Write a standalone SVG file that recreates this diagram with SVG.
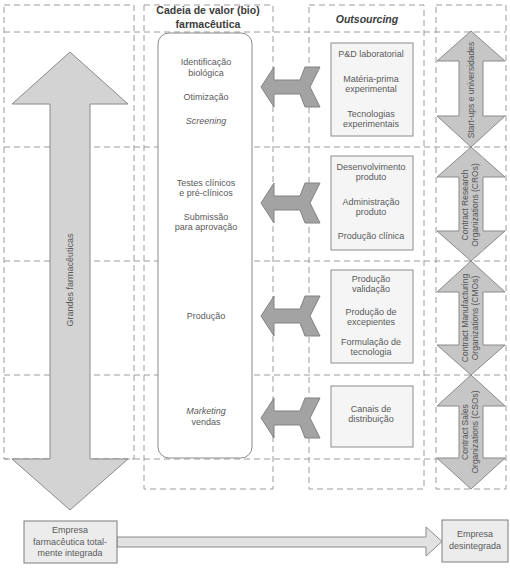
<svg xmlns="http://www.w3.org/2000/svg" xmlns:xlink="http://www.w3.org/1999/xlink" width="510" height="573" viewBox="0 0 510 573">
<style>
.dash{fill:none;stroke:#9c9c9c;stroke-width:1;stroke-dasharray:6 4}
.t{font-family:"Liberation Sans",Arial,sans-serif;font-size:9px;fill:#5a5a5a;text-anchor:middle}
.i{font-style:italic}
.h{font-family:"Liberation Sans",Arial,sans-serif;font-size:10.5px;font-weight:bold;fill:#3c3c3c;text-anchor:middle}
.r{font-family:"Liberation Sans",Arial,sans-serif;font-size:8.5px;fill:#555;text-anchor:middle}
.big{fill:#d3d3d3;stroke:#8a8a8a;stroke-width:1}
.harrow{fill:#a3a3a3;stroke:#828282;stroke-width:1}
.varrow{fill:#c6c6c6;stroke:#8a8a8a;stroke-width:1}
.obox{fill:#f5f5f5;stroke:#8c8c8c;stroke-width:1}
.bbox{fill:#ececec;stroke:#7c7c7c;stroke-width:1}
</style>
<defs>
<path id="ha" d="M0,0 L13,-20 L13,-7 L39,-7 L44,-20 L59,-20 L49,0 L59,20 L44,20 L39,7 L13,7 L13,20 Z"/>
</defs>
<rect width="510" height="573" fill="#fff"/>

<g id="grid">
<rect class="dash" x="4" y="5" width="130" height="454"/>
<rect class="dash" x="144" y="5" width="129" height="484"/>
<rect class="dash" x="309" y="5" width="115" height="484"/>
<rect class="dash" x="436" y="5" width="70" height="484"/>
<line class="dash" x1="4" y1="32" x2="506" y2="32"/>
<line class="dash" x1="4" y1="147" x2="506" y2="147"/>
<line class="dash" x1="4" y1="261" x2="506" y2="261"/>
<line class="dash" x1="4" y1="375" x2="506" y2="375"/>
<line class="dash" x1="4" y1="459" x2="506" y2="459"/>
</g>

<g id="headers">
<text class="h" x="208" y="14">Cadeia de valor (bio)</text>
<text class="h" x="208" y="28">farmacêutica</text>
<text class="h i" x="367" y="23">Outsourcing</text>
</g>

<g id="grandes">
<path class="big" d="M70,52 L128,104 L90,104 L90,459 L128,459 L70,510 L12,459 L50,459 L50,104 L12,104 Z"/>
<text class="t" transform="translate(73,280) rotate(-90)" x="0" y="0">Grandes farmacêuticas</text>
</g>

<g id="cadeia">
<rect x="158" y="33" width="94" height="425" rx="11" fill="#fff" stroke="#8a8a8a" stroke-width="1"/>
<text class="t" x="206" y="65">Identificação</text>
<text class="t" x="206" y="75.5">biológica</text>
<text class="t" x="206" y="100">Otimização</text>
<text class="t i" x="206" y="124">Screening</text>
<text class="t" x="206" y="185.5">Testes clínicos</text>
<text class="t" x="206" y="196">e pré-clínicos</text>
<text class="t" x="206" y="219.5">Submissão</text>
<text class="t" x="206" y="230">para aprovação</text>
<text class="t" x="206" y="319">Produção</text>
<text class="t i" x="206" y="414">Marketing</text>
<text class="t" x="206" y="425">vendas</text>
</g>

<g id="connectors">
<use href="#ha" xlink:href="#ha" class="harrow" transform="translate(261,87)"/>
<use href="#ha" xlink:href="#ha" class="harrow" transform="translate(261,203)"/>
<use href="#ha" xlink:href="#ha" class="harrow" transform="translate(261,316)"/>
<use href="#ha" xlink:href="#ha" class="harrow" transform="translate(261,418)"/>
<path d="M117,537 L426,537 L426,527 L442,541.5 L426,556 L426,547 L117,547 Z" fill="#e2e2e2" stroke="#8a8a8a" stroke-width="1"/>
</g>

<g id="out1">
<rect class="obox" x="331" y="43" width="82" height="93"/>
<text class="t" x="371" y="57">P&amp;D laboratorial</text>
<text class="t" x="371" y="81.5">Matéria-prima</text>
<text class="t" x="371" y="92">experimental</text>
<text class="t" x="371" y="116.5">Tecnologias</text>
<text class="t" x="371" y="127">experimentais</text>
</g>
<g id="out2">
<rect class="obox" x="331" y="156" width="82" height="94"/>
<text class="t" x="371" y="169.5">Desenvolvimento</text>
<text class="t" x="371" y="180">produto</text>
<text class="t" x="371" y="204.5">Administração</text>
<text class="t" x="371" y="215">produto</text>
<text class="t" x="371" y="239">Produção clínica</text>
</g>
<g id="out3">
<rect class="obox" x="331" y="270" width="82" height="93"/>
<text class="t" x="371" y="281.5">Produção</text>
<text class="t" x="371" y="292">validação</text>
<text class="t" x="371" y="314.5">Produção de</text>
<text class="t" x="371" y="325">excepientes</text>
<text class="t" x="371" y="344.5">Formulação de</text>
<text class="t" x="371" y="355">tecnologia</text>
</g>
<g id="out4">
<rect class="obox" x="331" y="386" width="82" height="61"/>
<text class="t" x="371" y="411.5">Canais de</text>
<text class="t" x="371" y="422">distribuição</text>
</g>

<g id="startups">
<path class="varrow" d="M471,31 L505,61 L483,61 L483,116 L505,116 L471,147 L437,116 L459,116 L459,61 L437,61 Z"/>
<text class="r" transform="translate(474,90) rotate(-90)">Start-ups e universidades</text>
</g>
<g id="cros">
<path class="varrow" d="M471,147 L505,177 L483,177 L483,231 L505,231 L471,261 L437,231 L459,231 L459,177 L437,177 Z"/>
<text class="r" transform="translate(468,205) rotate(-90)">Contract Research</text>
<text class="r" transform="translate(478,205) rotate(-90)">Organizations (CROs)</text>
</g>
<g id="cmos">
<path class="varrow" d="M471,261 L505,292 L483,292 L483,345 L505,345 L471,375 L437,345 L459,345 L459,292 L437,292 Z"/>
<text class="r" transform="translate(468,318) rotate(-90)">Contract Manufacturing</text>
<text class="r" transform="translate(478,318) rotate(-90)">Organizations (CMOs)</text>
</g>
<g id="csos">
<path class="varrow" d="M471,375 L505,406 L483,406 L483,458 L505,458 L471,489 L437,458 L459,458 L459,406 L437,406 Z"/>
<text class="r" transform="translate(468,432) rotate(-90)">Contract Sales</text>
<text class="r" transform="translate(478,432) rotate(-90)">Organizations (CSOs)</text>
</g>

<g id="integrada">
<rect class="bbox" x="24" y="521" width="93" height="42"/>
<text class="t" x="70" y="533">Empresa</text>
<text class="t" x="70" y="544.5">farmacêutica total-</text>
<text class="t" x="70" y="556">mente integrada</text>
</g>
<g id="desintegrada">
<rect class="bbox" x="442" y="520" width="66" height="42"/>
<text class="t" x="475" y="537">Empresa</text>
<text class="t" x="475" y="549">desintegrada</text>
</g>
</svg>
